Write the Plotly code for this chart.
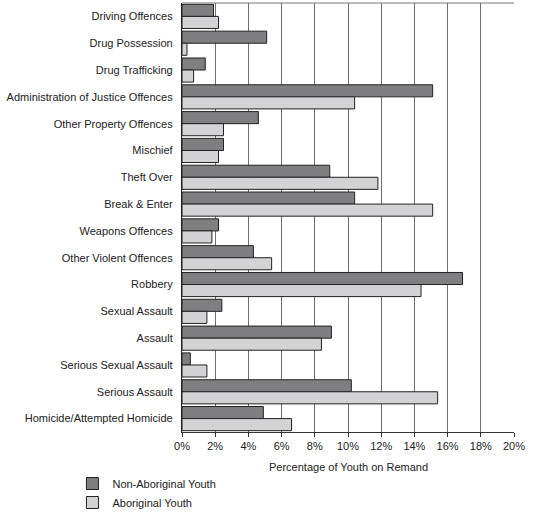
import plotly.graph_objects as go

offences = [
    "Driving Offences",
    "Drug Possession",
    "Drug Trafficking",
    "Administration of Justice Offences",
    "Other Property Offences",
    "Mischief",
    "Theft Over",
    "Break & Enter",
    "Weapons Offences",
    "Other Violent Offences",
    "Robbery",
    "Sexual Assault",
    "Assault",
    "Serious Sexual Assault",
    "Serious Assault",
    "Homicide/Attempted Homicide",
]

non_aboriginal = [1.9, 5.1, 1.4, 15.1, 4.6, 2.5, 8.9, 10.4, 2.2, 4.3, 16.9, 2.4, 9.0, 0.5, 10.2, 4.9]
aboriginal = [2.2, 0.3, 0.7, 10.4, 2.5, 2.2, 11.8, 15.1, 1.8, 5.4, 14.4, 1.5, 8.4, 1.5, 15.4, 6.6]

ticks = list(range(0, 21, 2))
tick_labels = [f"{t}%" for t in ticks]

fig = go.Figure()
fig.add_trace(
    go.Bar(
        y=offences,
        x=non_aboriginal,
        orientation="h",
        name="Non-Aboriginal Youth",
        marker=dict(color="#7f7f82", line=dict(color="#222222", width=1)),
    )
)
fig.add_trace(
    go.Bar(
        y=offences,
        x=aboriginal,
        orientation="h",
        name="Aboriginal Youth",
        marker=dict(color="#d3d3d5", line=dict(color="#222222", width=1)),
    )
)

fig.update_layout(
    width=533,
    height=517,
    barmode="group",
    bargap=0.1,
    bargroupgap=0,
    plot_bgcolor="white",
    paper_bgcolor="white",
    font=dict(family="Liberation Sans, Arial", size=11, color="#222222"),
    margin=dict(l=182, r=19, t=3, b=85),
    showlegend=True,
    legend=dict(
        orientation="v",
        xref="paper",
        yref="container",
        x=-0.33,
        xanchor="left",
        y=0.0,
        yanchor="bottom",
        traceorder="normal",
        font=dict(size=11),
        itemwidth=30,
        tracegroupgap=0,
    ),
    xaxis=dict(
        range=[0, 20],
        tickvals=ticks,
        ticktext=tick_labels,
        showgrid=True,
        gridcolor="#6e6e72",
        gridwidth=1,
        showline=True,
        linecolor="#333333",
        ticks="outside",
        ticklen=4,
        tickcolor="#333333",
        zeroline=False,
        automargin=False,
    ),
    yaxis=dict(
        autorange="reversed",
        showline=True,
        linecolor="#222222",
        ticks="",
        ticksuffix="  ",
        showgrid=False,
        automargin=False,
    ),
)

# axis title as an annotation so it can sit a bit lower than the default
fig.add_annotation(
    text="Percentage of Youth on Remand",
    xref="paper", yref="paper", x=0.5, y=-0.082,
    xanchor="center", yanchor="middle", showarrow=False,
    font=dict(size=11, color="#222222"),
)

fig.add_shape(
    type="line", xref="paper", yref="paper", x0=0, x1=1, y0=1, y1=1,
    line=dict(color="#777777", width=1),
)

# page has a default 8px body margin; drop it so the figure sits at 0,0
fig.write_html(
    "out.html",
    config={"displayModeBar": False},
    post_script="document.body.style.margin='0';",
)
